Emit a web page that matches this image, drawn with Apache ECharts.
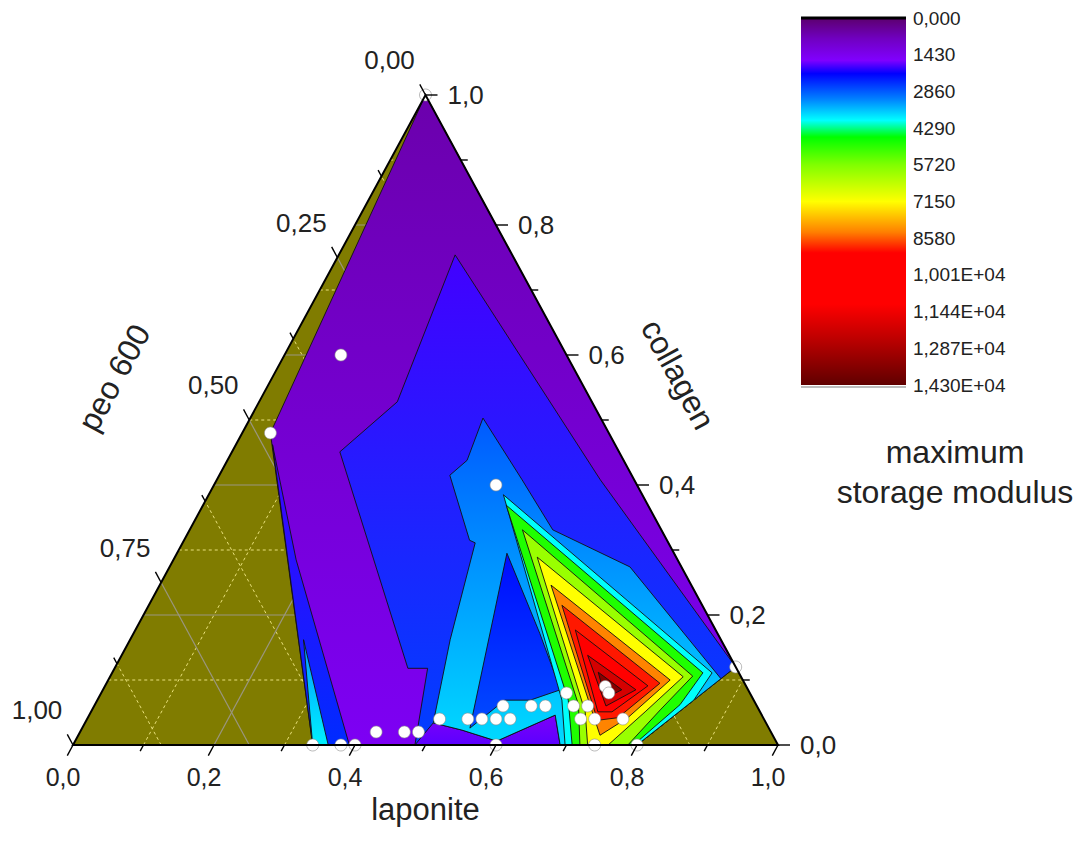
<!DOCTYPE html>
<html><head><meta charset="utf-8">
<script src="https://cdn.jsdelivr.net/npm/echarts@6/dist/echarts.min.js"></script>
<style>html,body{margin:0;padding:0;background:#fff}#c{width:1087px;height:850px}</style>
</head><body><div id="c"></div>
<script>
// ---------------- data ----------------
const laponiteTicks = [0, 0.2, 0.4, 0.6, 0.8, 1.0];
const laponiteLabels = ['0,0', '0,2', '0,4', '0,6', '0,8', '1,0'];
const laponiteMinor = [0.1, 0.3, 0.5, 0.7, 0.9];
const collagenTicks = [0, 0.2, 0.4, 0.6, 0.8, 1.0];
const collagenLabels = ['0,0', '0,2', '0,4', '0,6', '0,8', '1,0'];
const collagenMinor = [0.1, 0.3, 0.5, 0.7, 0.9];
const peoTicks = [0, 0.25, 0.5, 0.75, 1.0];
const peoLabels = ['0,00', '0,25', '0,50', '0,75', '1,00'];
const peoMinor = [0.125, 0.375, 0.625, 0.875];
const gridMajorLC = [0.2, 0.4, 0.6, 0.8];
const gridMinorLC = [0.1, 0.3, 0.5, 0.7, 0.9];
const gridMajorP = [0.25, 0.5, 0.75];
const gridMinorP = [0.125, 0.375, 0.625, 0.875];

const colorbarTicks = [0, 1430, 2860, 4290, 5720, 7150, 8580, 10010, 11440, 12870, 14300];
const colorbarLabels = ['0,000', '1430', '2860', '4290', '5720', '7150', '8580', '1,001E+04', '1,144E+04', '1,287E+04', '1,430E+04'];
const cmapValues = [0, 800, 1650, 2170, 3150, 3990, 4640, 5720, 7150, 8340, 9150, 11150, 12440, 14300];
const cmapColors = ['#5c006e', '#7000c0', '#8000ff', '#0000ff', '#0080ff', '#00ffff', '#00ff00', '#80ff00', '#ffff00', '#ff8000', '#ff0000', '#ff0000', '#c00000', '#600000'];

// measured compositions [laponite, collagen]; peo 600 = 1 - laponite - collagen
const samples = [
  [0.00, 1.00], [0.08, 0.60], [0.04, 0.48], [0.40, 0.40],
  [0.71, 0.09], [0.72, 0.08], [0.88, 0.12],
  [0.50, 0.04], [0.54, 0.04], [0.56, 0.04], [0.58, 0.04], [0.60, 0.04], [0.70, 0.04], [0.72, 0.04], [0.76, 0.04],
  [0.58, 0.06], [0.62, 0.06], [0.64, 0.06], [0.68, 0.06], [0.70, 0.06],
  [0.66, 0.08],
  [0.42, 0.02], [0.46, 0.02], [0.48, 0.02],
  [0.34, 0.00], [0.38, 0.00], [0.40, 0.00], [0.60, 0.00], [0.74, 0.00], [0.80, 0.00]
];

// contour regions: vertices [laponite, collagen]; level = [value at top, value at bottom]
const regionHull = [[0, 1], [0.04, 0.48], [0.34, 0], [0.80, 0], [0.88, 0.12]];
const levelHull = [600, 1500];
const regionLeftBlue = [[0.052, 0.462], [0.34, 0], [0.392, 0], [0.174, 0.285]];
const levelLeftBlue = [1900, 2500];
const regionLeftCyan = [[0.246, 0.162], [0.34, 0], [0.362, 0]];
const levelLeftCyan = [3300, 3900];
const regionA = [[0.165, 0.754], [0.544, 0.408], [0.88, 0.12], [0.80, 0], [0.485, 0], [0.444, 0.118], [0.416, 0.118], [0.153, 0.451], [0.196, 0.528]];
const levelA = [1900, 2650];
const regionValley = [[0.485, 0], [0.494, 0.034], [0.540, 0.023], [0.598, 0.006], [0.661, 0.046], [0.691, 0]];
const levelValley = [1550, 1800];
const regionB = [[0.330, 0.503], [0.433, 0.408], [0.515, 0.331], [0.653, 0.274], [0.868, 0.102], [0.80, 0], [0.691, 0], [0.661, 0.046], [0.598, 0.006], [0.540, 0.023], [0.494, 0.034], [0.454, 0.162], [0.415, 0.311], [0.405, 0.315], [0.327, 0.415], [0.340, 0.438]];
const levelB = [2850, 3750];
const regionTongue = [[0.468, 0.295], [0.576, 0.172], [0.649, 0.085], [0.614, 0.069], [0.578, 0.069], [0.550, 0.026]];
const levelTongue = [2250, 2750];
const regionCyan = [[0.418, 0.385], [0.851, 0.111], [0.846, 0.069], [0.80, 0], [0.698, 0], [0.659, 0.069]];
const levelCyan = [4000, 4000];
const regionG1 = [[0.430, 0.369], [0.838, 0.111], [0.830, 0.062], [0.795, 0], [0.708, 0], [0.668, 0.069]];
const levelG1 = [4900, 4900];
const regionG2 = [[0.472, 0.331], [0.826, 0.106], [0.806, 0.054], [0.787, 0], [0.719, 0], [0.686, 0.062]];
const levelG2 = [6000, 6000];
const regionG3 = [[0.514, 0.289], [0.813, 0.105], [0.786, 0.051], [0.759, 0], [0.730, 0], [0.701, 0.051]];
const levelG3 = [7150, 7150];
const regionG4 = [[0.555, 0.246], [0.797, 0.100], [0.766, 0.042], [0.740, 0.015], [0.711, 0.051]];
const levelG4 = [8300, 8300];
const regionG5 = [[0.586, 0.215], [0.785, 0.095], [0.752, 0.042], [0.725, 0.038]];
const levelG5 = [9000, 9000];
const regionG6 = [[0.624, 0.177], [0.770, 0.091], [0.739, 0.051], [0.719, 0.051]];
const levelG6 = [10500, 10500];
const regionG7 = [[0.661, 0.138], [0.756, 0.085], [0.726, 0.060]];
const levelG7 = [12000, 12000];
const regionG8 = [[0.689, 0.112], [0.736, 0.085], [0.719, 0.072]];
const levelG8 = [13500, 13500];

// ---------------- helpers ----------------
const FONT = "'Liberation Sans', Arial, sans-serif";
const TXT = '#222222';
function hexRgb(h) { return [1, 3, 5].map(i => parseInt(h.substr(i, 2), 16)); }
function cmap(v) {
  if (v <= cmapValues[0]) return cmapColors[0];
  for (let i = 1; i < cmapValues.length; i++) {
    if (v <= cmapValues[i]) {
      const t = (v - cmapValues[i - 1]) / (cmapValues[i] - cmapValues[i - 1]);
      const a = hexRgb(cmapColors[i - 1]), b = hexRgb(cmapColors[i]);
      const c = a.map((x, k) => Math.round(x + (b[k] - x) * t));
      return 'rgb(' + c.join(',') + ')';
    }
  }
  return cmapColors[cmapColors.length - 1];
}
const toXY = (L, C) => [L + C / 2, C];

const contourRegions = [
  [regionHull, levelHull], [regionLeftBlue, levelLeftBlue], [regionLeftCyan, levelLeftCyan],
  [regionA, levelA], [regionValley, levelValley], [regionB, levelB], [regionTongue, levelTongue],
  [regionCyan, levelCyan], [regionG1, levelG1], [regionG2, levelG2], [regionG3, levelG3],
  [regionG4, levelG4], [regionG5, levelG5], [regionG6, levelG6], [regionG7, levelG7], [regionG8, levelG8]
];

function norm(v) { const l = Math.hypot(v[0], v[1]); return [v[0] / l, v[1] / l]; }

// ---------------- chart ----------------
const chart = echarts.init(document.getElementById('c'), null, { renderer: 'svg', width: 1087, height: 850 });

const option = {
  animation: false,
  backgroundColor: '#ffffff',
  title: [
    { text: 'maximum', left: 950, top: 431, textAlign: 'center', textStyle: { fontFamily: FONT, fontSize: 32, fontWeight: 'normal', color: TXT } },
    { text: 'storage modulus', left: 950, top: 471, textAlign: 'center', textStyle: { fontFamily: FONT, fontSize: 32, fontWeight: 'normal', color: TXT } }
  ],
  grid: [
    { left: 73, top: 95, width: 705, height: 650 },
    { left: 801, top: 18, width: 105, height: 367 }
  ],
  xAxis: [
    { gridIndex: 0, type: 'value', min: 0, max: 1, show: false },
    { gridIndex: 1, type: 'value', min: 0, max: 1, show: false }
  ],
  yAxis: [
    { gridIndex: 0, type: 'value', min: 0, max: 1, show: false },
    {
      gridIndex: 1, type: 'value', min: 0, max: 14300, interval: 1430, inverse: true, position: 'right',
      axisLine: { show: false }, axisTick: { show: false }, splitLine: { show: false },
      axisLabel: {
        margin: 7, fontFamily: FONT, fontSize: 19, color: TXT,
        formatter: v => { const i = colorbarTicks.indexOf(Math.round(v)); return i >= 0 ? colorbarLabels[i] : ''; }
      }
    }
  ],
  series: [
    { // olive background triangle + grid
      type: 'custom', xAxisIndex: 0, yAxisIndex: 0, z: 1, silent: true, clip: false,
      data: [[0.5, 0.5]],
      renderItem(params, api) {
        const P = (L, C) => api.coord(toXY(L, C));
        const ch = [{ type: 'polygon', shape: { points: [P(0, 0), P(1, 0), P(0, 1)] }, style: { fill: '#807c00' } }];
        const line = (a, b, major) => ({
          type: 'line', shape: { x1: a[0], y1: a[1], x2: b[0], y2: b[1] },
          style: major ? { stroke: '#9a9680', lineWidth: 1.2 } : { stroke: '#e8e07a', lineWidth: 1, lineDash: [3, 3] }
        });
        gridMinorLC.forEach(v => {
          ch.push(line(P(0, v), P(1 - v, v), false));
          ch.push(line(P(v, 0), P(v, 1 - v), false));
        });
        gridMinorP.forEach(p => ch.push(line(P(1 - p, 0), P(0, 1 - p), false)));
        gridMajorLC.forEach(v => {
          ch.push(line(P(0, v), P(1 - v, v), true));
          ch.push(line(P(v, 0), P(v, 1 - v), true));
        });
        gridMajorP.forEach(p => ch.push(line(P(1 - p, 0), P(0, 1 - p), true)));
        return { type: 'group', children: ch };
      }
    },
    { // contour fill
      type: 'custom', xAxisIndex: 0, yAxisIndex: 0, z: 2, silent: true, clip: false,
      data: contourRegions.map(() => [0.5, 0.5]),
      renderItem(params, api) {
        const [pts, lv] = contourRegions[params.dataIndex];
        const points = pts.map(p => api.coord(toXY(p[0], p[1])));
        const fill = lv[0] === lv[1] ? cmap(lv[0]) :
          new echarts.graphic.LinearGradient(0, 0, 0, 1, [{ offset: 0, color: cmap(lv[0]) }, { offset: 1, color: cmap(lv[1]) }]);
        return { type: 'polygon', shape: { points }, style: { fill, stroke: '#111', lineWidth: 0.9 } };
      }
    },
    { // samples
      type: 'scatter', xAxisIndex: 0, yAxisIndex: 0, z: 4, clip: true, silent: true,
      symbol: 'circle', symbolSize: 12,
      itemStyle: { color: '#ffffff', opacity: 1, borderColor: '#8c8c8c', borderWidth: 0.6 },
      data: samples.map(s => toXY(s[0], s[1]))
    },
    { // frame, ticks, labels
      type: 'custom', xAxisIndex: 0, yAxisIndex: 0, z: 5, silent: true, clip: false,
      data: [[0.5, 0.5]],
      renderItem(params, api) {
        const P = (L, C) => api.coord(toXY(L, C));
        const bl = P(0, 0), br = P(1, 0), tp = P(0, 1);
        const dDownLeft = norm([bl[0] - tp[0], bl[1] - tp[1]]);
        const dUpLeft = norm([tp[0] - br[0], tp[1] - br[1]]);
        const ch = [];
        const tick = (p, d, len) => ({ type: 'line', shape: { x1: p[0], y1: p[1], x2: p[0] + d[0] * len, y2: p[1] + d[1] * len }, style: { stroke: '#000', lineWidth: 1.4 } });
        const text = (x, y, s, size, align, rot) => ({
          type: 'text', x, y, rotation: rot || 0,
          style: { text: s, fontFamily: FONT, fontSize: size, fill: TXT, align: align || 'center', verticalAlign: 'middle' }
        });
        ch.push({ type: 'polygon', shape: { points: [bl, br, tp] }, style: { fill: 'none', stroke: '#000', lineWidth: 2 } });
        laponiteTicks.forEach((l, i) => {
          const p = P(l, 0); ch.push(tick(p, dDownLeft, 12));
          ch.push(text(p[0] - 10, p[1] + 32, laponiteLabels[i], 25));
        });
        laponiteMinor.forEach(l => ch.push(tick(P(l, 0), dDownLeft, 7)));
        collagenTicks.forEach((c, i) => {
          const p = P(1 - c, c); ch.push(tick(p, [1, 0], 12));
          ch.push(text(p[0] + 22, p[1], collagenLabels[i], 26, 'left'));
        });
        collagenMinor.forEach(c => ch.push(tick(P(1 - c, c), [1, 0], 7)));
        peoTicks.forEach((v, i) => {
          const p = P(0, 1 - v); ch.push(tick(p, dUpLeft, 12));
          ch.push(text(p[0] - 36, p[1] - 35, peoLabels[i], 26));
        });
        peoMinor.forEach(v => ch.push(tick(P(0, 1 - v), dUpLeft, 7)));
        const ang = Math.atan2(bl[1] - tp[1], tp[0] - bl[0]);
        const pl = P(0.5, 0); ch.push(text(pl[0], pl[1] + 64, 'laponite', 31));
        const pc = P(0.43, 0.57); ch.push(text(pc[0] + 101, pc[1], 'collagen', 32, 'center', -ang));
        const pp = P(0, 0.565); ch.push(text(pp[0] - 158, pp[1], 'peo 600', 32, 'center', ang));
        return { type: 'group', children: ch };
      }
    },
    { // colour scale bar
      type: 'custom', xAxisIndex: 1, yAxisIndex: 1, z: 3, silent: true, clip: false,
      data: [[0.5, 0]],
      renderItem(params, api) {
        const top = colorbarTicks[0], bot = colorbarTicks[colorbarTicks.length - 1];
        const p0 = api.coord([0, top]), p1 = api.coord([1, bot]);
        const stops = cmapValues.map((v, i) => ({ offset: v / bot, color: cmapColors[i] }));
        return {
          type: 'group', children: [
            { type: 'rect', shape: { x: p0[0], y: p0[1], width: p1[0] - p0[0], height: p1[1] - p0[1] }, style: { fill: new echarts.graphic.LinearGradient(0, 0, 0, 1, stops) } },
            { type: 'line', shape: { x1: p0[0], y1: p0[1], x2: p1[0], y2: p0[1] }, style: { stroke: '#000', lineWidth: 3 } },
            { type: 'line', shape: { x1: p0[0], y1: p1[1] + 2, x2: p1[0], y2: p1[1] + 2 }, style: { stroke: '#bdbdbd', lineWidth: 2 } }
          ]
        };
      }
    }
  ]
};
chart.setOption(option);
</script>
</body></html>
